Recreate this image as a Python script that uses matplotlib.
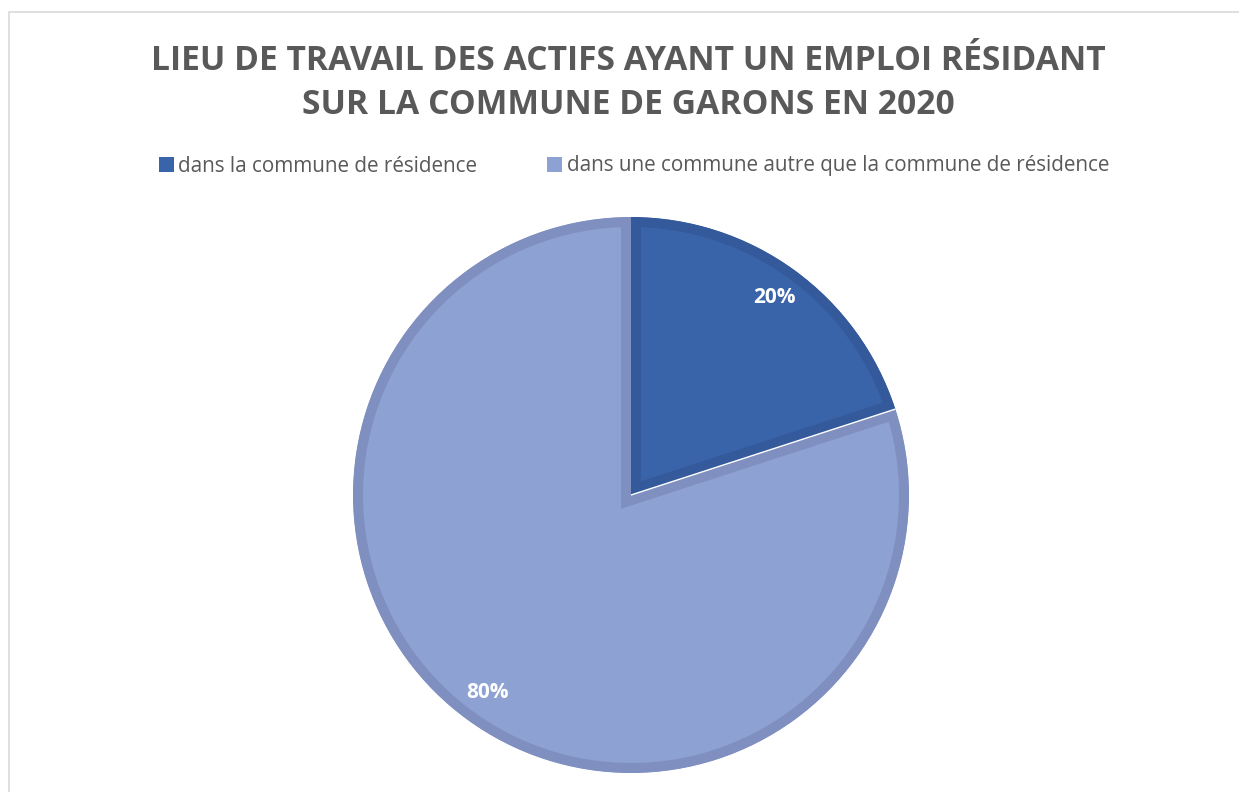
import numpy as np
import matplotlib
matplotlib.use("Agg")
import matplotlib.pyplot as plt
from matplotlib.patches import Rectangle, Patch

# data
labels = ["dans la commune de résidence",
          "dans une commune autre que la commune de résidence"]
values = [20, 80]
fill_colors = ["#3A64AA", "#8EA1D3"]
edge_colors = ["#345A9B", "#7F8FBF"]
title = "LIEU DE TRAVAIL DES ACTIFS AYANT UN EMPLOI RÉSIDANT\nSUR LA COMMUNE DE GARONS EN 2020"

W, H = 1239, 792
plt.rcParams["font.family"] = ["Open Sans", "DejaVu Sans"]

fig = plt.figure(figsize=(W / 100, H / 100), dpi=100)

# light frame around the chart area
fig.patches.append(Rectangle((9 / W, -0.1), 1.1, 1.1 - 12 / H,
                             transform=fig.transFigure, fill=False,
                             edgecolor="#D9D9D9", linewidth=1.2))

# pie centred at (631, 495) px with radius 278 px
cx, cy, r = 631, 495, 278
ax = fig.add_axes([(cx - r) / W, (H - cy - r) / H, 2 * r / W, 2 * r / H])
wedges, texts, autotexts = ax.pie(
    values, colors=fill_colors, startangle=90, counterclock=False,
    radius=1, autopct="%d%%", pctdistance=0.88,
    textprops=dict(color="white", fontsize=15, fontweight="bold"))
ax.set_xlim(-1, 1)
ax.set_ylim(-1, 1)

# inner stroke: thick edge clipped to the wedge outline
for w, ec in zip(wedges, edge_colors):
    w.set_edgecolor(ec)
    w.set_linewidth(14.4)
    w.set_joinstyle("miter")
    w.set_clip_path(w.get_path(), ax.transData)
    w.set_clip_on(True)

# thin white seam between the two slices
seam = np.deg2rad(90 - 360 * values[0] / sum(values))
ax.plot([0, np.cos(seam)], [0, np.sin(seam)], color="white", lw=1.0,
        solid_capstyle="butt")

fig.text(628 / W, 1 - 83 / H, title, ha="center", va="center",
         fontsize=24.2, fontweight="bold", color="#595959", linespacing=1.4)

handles = [Patch(facecolor=c, edgecolor="none") for c in fill_colors]
fig.legend(handles, labels, loc="center", bbox_to_anchor=(634 / W, 1 - 166 / H),
           ncol=2, frameon=False, fontsize=14.9, labelcolor="#595959",
           handlelength=0.72, handleheight=0.72, handletextpad=0.2,
           columnspacing=3.4)

fig.savefig("out.png", dpi=100)
